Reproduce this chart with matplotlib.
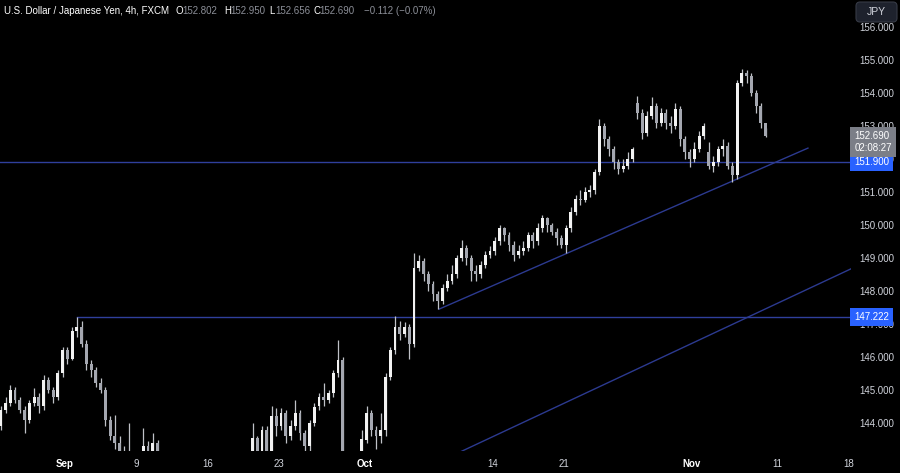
import matplotlib
matplotlib.use("Agg")
import matplotlib.pyplot as plt
import matplotlib.transforms as mtransforms
from matplotlib.patches import FancyBboxPatch

# USDJPY, candles of 8h (3 per trading day), day 0 = Mon 26 Aug 2024
# one row per trading day
closes = [
    143.9, 144.4, 144.6,   145.0, 144.7, 144.4,   144.1, 144.6, 144.8,
    144.5, 145.3, 145.0,   144.8, 145.5, 146.2,
    145.95, 146.8, 146.9,  146.4, 145.8, 145.6,   145.2, 145.0, 144.1,
    143.6, 143.4, 142.9,   143.0, 142.9, 142.3,
    142.9, 143.3, 143.1,   143.4, 143.0, 142.4,   141.8, 141.0, 142.3,
    142.4, 142.1, 141.8,   141.3, 141.0, 140.8,
    140.5, 139.9, 140.6,   140.9, 141.8, 142.3,   141.5, 141.2, 142.3,
    143.55, 142.8, 143.8,  142.9, 144.2, 143.9,
    144.3, 143.6, 143.9,   144.3, 143.7, 143.3,   144.0, 144.5, 144.8,
    144.7, 144.9, 145.5,   145.9, 142.3, 142.2,
    141.8, 142.6, 143.5,   144.3, 143.8, 143.6,   143.8, 145.4, 146.2,
    146.9, 146.7, 146.9,   146.4, 148.7, 148.9,
    148.5, 148.2, 147.9,   147.7, 148.1, 148.3,   148.5, 149.0, 149.3,
    149.0, 148.6, 148.5,   148.8, 149.1, 149.2,
    149.5, 149.9, 149.7,   149.4, 149.1, 149.2,   149.3, 149.7, 149.5,
    149.9, 150.2, 150.0,   149.8, 149.6, 149.4,
    149.9, 150.4, 150.8,   150.75, 151.0, 151.05, 151.6, 153.0, 152.6,
    152.3, 151.9, 151.7,   151.8, 152.0, 152.3,
    153.4, 152.8, 153.3,   153.6, 153.1, 153.4,   153.1, 153.0, 153.5,
    152.6, 152.2, 152.0,   152.3, 152.7, 153.0,
    151.8, 151.9, 152.3,   152.4, 151.8, 151.5,   154.3, 154.6, 154.5,
    154.0, 153.6, 153.1,   152.69,
]
highs = [
    144.2, 144.5, 144.8,   145.15, 145.1, 144.8,  144.5, 144.7, 145.05,
    144.9, 145.45, 145.4,  145.1, 145.6, 146.3,
    146.3, 146.9, 147.22,  147.1, 146.5, 145.9,   145.7, 145.35, 145.1,
    144.2, 144.25, 143.6,  143.3, 144.0, 143.0,
    143.0, 143.85, 143.45, 143.7, 143.5, 143.1,   142.6, 141.9, 142.5,
    142.8, 142.6, 142.3,   141.9, 141.5, 141.2,
    140.9, 140.6, 140.8,   141.1, 142.0, 142.5,   142.5, 141.8, 142.6,
    144.0, 143.6, 143.9,   143.9, 144.5, 144.45,
    144.45, 144.4, 144.1,  144.7, 144.4, 143.8,   144.1, 144.6, 144.9,
    145.2, 145.0, 145.6,   146.5, 146.0, 142.5,
    142.3, 142.8, 143.8,   144.5, 144.4, 143.9,   144.3, 145.5, 146.3,
    147.25, 147.1, 147.05, 147.0, 149.15, 149.1,
    149.0, 148.6, 148.3,   148.0, 148.2, 148.5,   148.8, 149.1, 149.55,
    149.4, 149.1, 148.8,   148.9, 149.2, 149.35,
    149.65, 150.0, 149.95, 149.8, 149.5, 149.4,   149.5, 149.8, 149.8,
    150.05, 150.3, 150.25, 150.05, 149.9, 149.7,
    150.0, 150.55, 150.9,  151.05, 151.15, 151.2, 151.7, 153.2, 153.1,
    152.7, 152.4, 152.0,   152.0, 152.2, 152.35,
    153.9, 153.5, 153.45,  153.88, 153.7, 153.55, 153.5, 153.3, 153.7,
    153.6, 152.7, 152.3,   152.5, 152.85, 153.1,
    152.5, 152.1, 152.4,   152.6, 152.5, 151.9,   154.4, 154.72, 154.7,
    154.6, 154.1, 153.7,   152.95,
]
lows = [
    143.7, 143.8, 144.3,   144.5, 144.6, 144.3,   143.7, 144.0, 144.5,
    144.3, 144.4, 144.9,   144.6, 144.7, 145.4,
    145.8, 145.9, 146.6,   146.3, 145.6, 145.4,   145.1, 144.9, 143.9,
    143.5, 143.2, 142.7,   142.6, 142.5, 141.75,
    142.2, 142.8, 142.9,   142.9, 142.8, 142.2,   141.6, 140.7, 140.9,
    142.0, 141.9, 141.6,   141.1, 140.8, 140.3,
    140.2, 139.6, 139.8,   140.4, 140.8, 141.6,   141.3, 140.9, 141.0,
    142.2, 142.5, 142.7,   142.6, 142.8, 143.6,
    143.8, 143.4, 143.5,   143.8, 143.5, 142.9,   143.1, 143.9, 144.4,
    144.5, 144.6, 144.8,   145.4, 142.1, 141.9,
    141.6, 141.7, 142.5,   143.4, 143.6, 143.2,   143.4, 143.6, 145.3,
    146.1, 146.5, 146.6,   145.95, 146.3, 148.6,
    148.3, 148.0, 147.7,   147.45, 147.6, 148.0,  148.2, 148.4, 148.9,
    148.8, 148.3, 148.3,   148.4, 148.7, 149.0,
    149.1, 149.4, 149.5,   149.2, 148.9, 149.0,   149.1, 149.2, 149.3,
    149.4, 149.8, 149.8,   149.7, 149.4, 149.3,
    149.15, 149.8, 150.3,  150.6, 150.7, 150.85,  150.95, 151.5, 152.4,
    152.1, 151.7, 151.55,  151.6, 151.7, 151.9,
    153.2, 152.6, 152.7,   153.2, 152.95, 153.0,  152.9, 152.8, 152.9,
    152.4, 152.0, 151.75,  151.9, 152.2, 152.6,
    151.7, 151.6, 151.8,   152.1, 151.7, 151.3,   151.4, 154.2, 154.3,
    153.9, 153.4, 152.95,  152.656,
]
first_open = 144.0
gap_opens = {135: 153.7, 150: 152.2}   # weekend gaps

tick_days = [5, 10, 15, 20, 26, 35, 40, 49, 55, 60]
tick_labels = ["Sep", "9", "16", "23", "Oct", "14", "21", "Nov", "11", "18"]
month_labels = ["Sep", "Oct", "Nov"]
price_ticks = list(range(144, 157))

res_level = 151.900
sup_level = 147.222
sup_start_day = 5.83

trend1_days = [31.25, 57.14]
trend1_prices = [147.45, 152.33]
trend2_days = [32.72, 60.30]
trend2_prices = [143.12, 148.70]

last_price = 152.690
countdown = "02:08:27"

title = "U.S. Dollar / Japanese Yen, 4h, FXCM"
ohlc_head = [("O", "152.802"), ("H", "152.950"), ("L", "152.656"), ("C", "152.690")]
change_txt = "\u22120.112 (\u22120.07%)"

plt.rcParams["font.family"] = ["Liberation Sans", "DejaVu Sans"]

W, H = 900, 473
fig = plt.figure(figsize=(9, 4.73), dpi=100, facecolor="black")
ax = fig.add_axes([0, 1 - 451 / H, 851 / W, 451 / H], facecolor="black")

# candles
opens = []
prev = first_open
for i, c in enumerate(closes):
    opens.append(gap_opens.get(i, prev))
    prev = c
xs = [i / 3 + 1 / 6 for i in range(len(closes))]
body_bot = [min(o, c) for o, c in zip(opens, closes)]
body_h = [max(abs(c - o), 0.03) for o, c in zip(opens, closes)]
body_col = ["#f2f2f2" if c >= o else "#a4a7b0" for o, c in zip(opens, closes)]

ax.vlines(xs, lows, highs, colors="#bfc1c7", lw=0.9, zorder=2)
ax.bar(xs, body_h, bottom=body_bot, width=0.2, color=body_col, lw=0, zorder=3)

# levels and trendlines
line_col = "#2f3f9c"
ax.axhline(res_level, color=line_col, lw=1, zorder=1)
ax.plot([sup_start_day, 61], [sup_level, sup_level], color=line_col, lw=1, zorder=1)
ax.plot(trend1_days, trend1_prices, color="#2c3a90", lw=1, zorder=1)
ax.plot(trend2_days, trend2_prices, color="#2c3a90", lw=1, zorder=1)

ax.set_xlim(6.3 / 14.25, (851 + 6.3) / 14.25)
ax.set_ylim(155 - 391 / 33, 155 + 60 / 33)

for s in ax.spines.values():
    s.set_visible(False)

ax.yaxis.tick_right()
ax.set_yticks(price_ticks)
ax.set_yticklabels(["%.3f" % p for p in price_ticks])
ax.tick_params(axis="y", length=0, pad=6, labelsize=7, labelcolor="#d1d4dc")
ax.set_xticks(tick_days)
ax.set_xticklabels(tick_labels)
ax.tick_params(axis="x", length=0, pad=6, labelsize=7, labelcolor="#d1d4dc")
for t in ax.get_xticklabels():
    if t.get_text() in month_labels:
        t.set_color("white")
        t.set_fontweight("bold")
# partial "26" at the left edge
ax.text(0, -0.026, "26", transform=mtransforms.blended_transform_factory(ax.transData, ax.transAxes),
        ha="center", va="center", fontsize=7, color="#d1d4dc", clip_on=False)

# price labels on the axis
tr = mtransforms.blended_transform_factory(ax.transAxes, ax.transData)
for lvl in [res_level, sup_level]:
    ax.text(1.004, lvl, "%.3f" % lvl, transform=tr, ha="left", va="center", fontsize=7,
            color="white", clip_on=False, zorder=10,
            bbox=dict(boxstyle="square,pad=0.42", fc="#2962ff", ec="none"))
ax.text(1.004, last_price - 0.18, "%.3f\n%s" % (last_price, countdown), transform=tr,
        ha="left", va="center", fontsize=7, color="white", linespacing=1.3,
        clip_on=False, zorder=10,
        bbox=dict(boxstyle="square,pad=0.42", fc="#7b7e87", ec="none"))

# currency box
box = FancyBboxPatch((856, H - 22), 41, 20, boxstyle="round,pad=0,rounding_size=4",
                     transform=mtransforms.IdentityTransform(), fc="#1e222d", ec="#363a45",
                     lw=0.8, zorder=20)
fig.add_artist(box)
fig.text(876.5 / W, 1 - 12 / H, "JPY", ha="center", va="center", fontsize=7.5,
         color="#d1d4dc", zorder=21)

# header
fig.text(4 / W, 1 - 11 / H, title, ha="left", va="center", fontsize=7, color="white")
hx = [176, 224, 269, 313]
for x0, (k, v) in zip(hx, ohlc_head):
    fig.text(x0 / W, 1 - 11 / H, k, ha="left", va="center", fontsize=7, color="white")
    fig.text((x0 + 6.5) / W, 1 - 11 / H, v, ha="left", va="center", fontsize=7, color="#8c8f98")
fig.text(364 / W, 1 - 11 / H, change_txt, ha="left", va="center", fontsize=7, color="#8c8f98")

fig.savefig("out.png", dpi=100, facecolor="black")
